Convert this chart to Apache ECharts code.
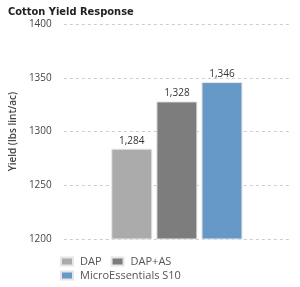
<!DOCTYPE html>
<html>
<head>
<meta charset="utf-8">
<script src="https://cdn.jsdelivr.net/npm/echarts@6/dist/echarts.min.js"></script>
<style>
html,body{margin:0;padding:0;background:#fff;}
#main{width:300px;height:287px;}
</style>
</head>
<body>
<div id="main"></div>
<script>
// 数据
var categories = ['Cotton'];
var seriesNames = ['DAP', 'DAP+AS', 'MicroEssentials S10'];
var yields = [1284, 1328, 1346];
var barColors = ['#ababab', '#7d7d7d', '#6699c7'];
var yTicks = [1200, 1250, 1300, 1350, 1400];

var chart = echarts.init(document.getElementById('main'));

var series = [];
for (var i = 0; i < seriesNames.length; i++) {
	series.push({
		name: seriesNames[i],
		type: 'bar',
		data: [yields[i]],
		barWidth: 41,
		barGap: '10%',
		itemStyle: {
			color: barColors[i],
			borderColor: '#e6e6e6',
			borderWidth: 1
		},
		label: {
			show: true,
			position: 'top',
			distance: 3,
			fontFamily: 'Open Sans',
			fontSize: 10,
			color: '#333',
			formatter: function (p) {
				return p.value.toLocaleString('en-US');
			}
		}
	});
}

//图例公共样式
var legendBase = {
	left: 55,
	itemWidth: 12,
	itemHeight: 8,
	itemGap: 9,
	icon: 'rect',
	textStyle: {
		fontFamily: 'Open Sans',
		fontSize: 11,
		color: '#555',
		padding: [0, 0, 0, 2]
	}
};

var option = {
	animation: false,
	title: {
		text: 'Cotton Yield Response',
		left: 3,
		top: 2,
		textStyle: {
			fontFamily: 'DejaVu Sans Condensed',
			fontWeight: 'bold',
			fontSize: 11,
			color: '#222'
		}
	},
	grid: {
		left: 62,
		right: 10,
		top: 24,
		bottom: 48
	},
	legend: [
		Object.assign({}, legendBase, {top: 251, data: seriesNames.slice(0, 2)}),
		Object.assign({}, legendBase, {top: 265, data: seriesNames.slice(2)})
	],
	xAxis: {
		type: 'category',
		data: categories,
		axisLine: {show: false},
		axisTick: {show: false},
		axisLabel: {show: false}
	},
	yAxis: {
		type: 'value',
		min: yTicks[0],
		max: yTicks[yTicks.length - 1],
		interval: 50,
		name: 'Yield (lbs lint/ac)',
		nameLocation: 'middle',
		nameGap: 40,
		nameTextStyle: {
			fontFamily: 'Open Sans',
			fontSize: 10,
			fontWeight: 600,
			color: '#444'
		},
		axisLabel: {
			fontFamily: 'Open Sans',
			fontSize: 10,
			color: '#444',
			margin: 12,
			formatter: function (v) { return String(v); }
		},
		splitLine: {
			lineStyle: {color: '#cccccc', type: [3, 3], width: 1}
		}
	},
	series: series
};

chart.setOption(option);
</script>
</body>
</html>
